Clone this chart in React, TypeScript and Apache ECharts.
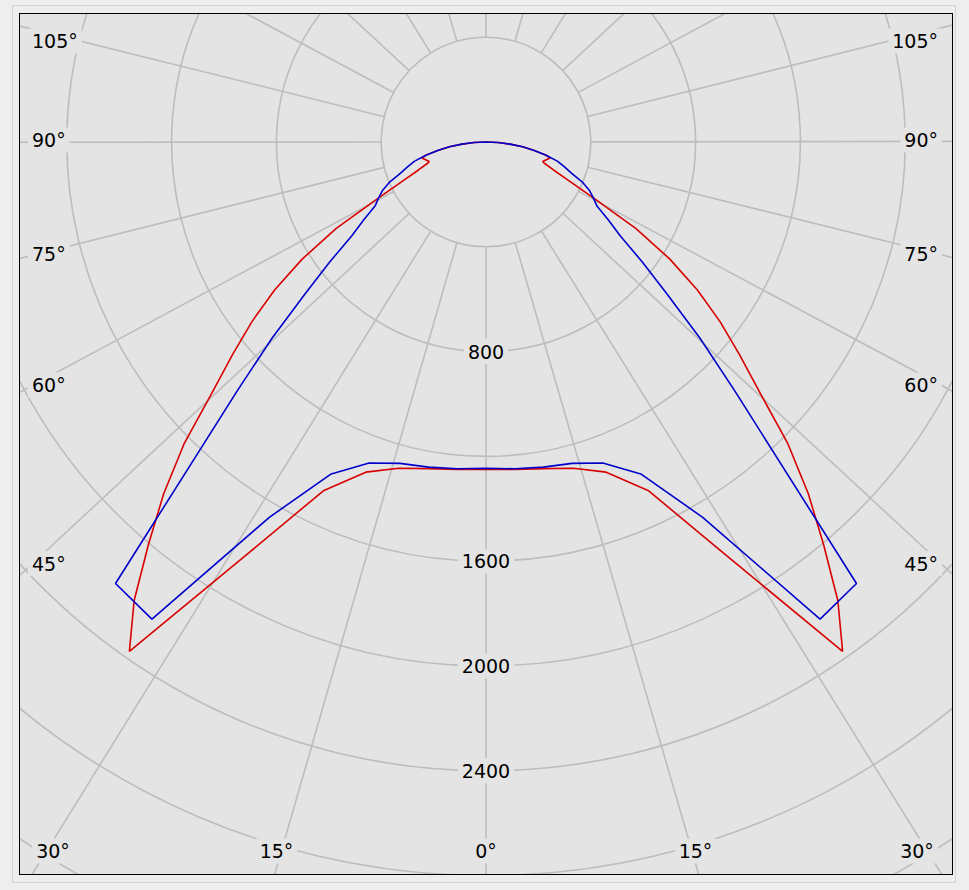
import React, { useEffect, useRef } from 'react';
import * as echarts from 'echarts';

// Luminous intensity (cd) versus gamma angle from nadir (deg); each curve is symmetric
const redAngles = [0, 5, 10, 15, 20, 25, 30, 35, 37.5, 40, 42.5, 45, 47.5, 50, 52.5, 55, 57.5, 60, 62.5, 65, 67.5, 70, 71, 76, 77.5, 80, 82.5, 85, 87.5, 90];
const redValues = [1250, 1255, 1266, 1289, 1341, 1469, 1811, 2373, 2206, 2004, 1821, 1630, 1420, 1263, 1126, 985, 832, 660, 462, 347, 279, 237, 229, 252, 235, 187, 141, 92, 46, 0];

const blueAngles = [0, 5, 10, 15, 20, 25, 30, 35, 40, 45, 47.5, 50, 52.5, 55, 57.5, 60, 62.5, 65, 67.5, 70, 72.5, 75, 77.5, 80, 82.5, 85, 87.5, 90];
const blueValues = [1245, 1252, 1260, 1270, 1304, 1398, 1654, 2223, 2200, 1342, 1107, 901, 752, 626, 553, 489, 462, 435, 397, 347, 313, 282, 235, 187, 141, 92, 46, 0];

// Radial scale (cd)
const radiusMin = 400;
const radiusMax = 3600;
const radiusStep = 400;
const radiusLabels = [800, 1600, 2000, 2400];

// Directions of the grid spokes as drawn in the picture (deg from nadir, one half-plane)
const spokeAngles = [0, 16.1, 31.8, 47.1, 61.8, 76, 90, 104, 118.2, 132.9, 148.2, 163.9, 180];

// Angle tick labels
const sideAngleLabels = ['105°', '90°', '75°', '60°', '45°'];
const bottomAngleLabels = ['30°', '15°', '0°', '15°', '30°'];

// ---- layout / style (not data) ----
const BG = '#e4e4e4';
const GRID = '#bdbdbd';
const RED = '#d80000';
const BLUE = '#0000cc';
const FONT_FAMILY = '"DejaVu Sans", Verdana, sans-serif';
const FONT_SIZE = 19;
const CHART_W = 932;
const CHART_H = 860;
const CENTER: [number, number] = [466, 128];
const PX_PER_CD = 104.8 / 400;
const sideLabelY = [27, 126, 239.5, 371, 549.5];
const bottomLabelX = [33, 256.5, 466, 675.5, 897];
const bottomLabelY = 837;
const ANGLE_STEPS_PER_DEG = 10;

function loop(angles: number[], values: number[]) {
  const left = angles.map((a, i) => [values[i], a]);
  const right = angles.map((a, i) => [values[i], 360 - a]).reverse();
  return [...left, ...right];
}

const hiddenAxisParts = {
  axisLine: { show: false },
  axisTick: { show: false },
  axisLabel: { show: false },
  splitLine: { show: false },
};

export default function App() {
  const ref = useRef<HTMLDivElement>(null);

  useEffect(() => {
    if (!ref.current) return;
    const chart = echarts.init(ref.current, undefined, { renderer: 'svg' });

    const labelStyle = {
      fill: '#000',
      font: `${FONT_SIZE}px ${FONT_FAMILY}`,
      backgroundColor: BG,
      padding: [3, 4],
    };

    const elements: any[] = [];
    sideAngleLabels.forEach((t, i) => {
      elements.push({
        type: 'text',
        x: 8,
        y: sideLabelY[i],
        z: 10,
        silent: true,
        style: { ...labelStyle, text: t, align: 'left', verticalAlign: 'middle' },
      });
      elements.push({
        type: 'text',
        x: 922,
        y: sideLabelY[i],
        z: 10,
        silent: true,
        style: { ...labelStyle, text: t, align: 'right', verticalAlign: 'middle' },
      });
    });
    bottomAngleLabels.forEach((t, i) => {
      elements.push({
        type: 'text',
        x: bottomLabelX[i],
        y: bottomLabelY,
        z: 10,
        silent: true,
        style: { ...labelStyle, text: t, align: 'center', verticalAlign: 'middle' },
      });
    });

    const r0 = radiusMin * PX_PER_CD;
    const r1 = radiusMax * PX_PER_CD;

    // fine category ring so that spokes can sit at the drawn directions
    const nSteps = 360 * ANGLE_STEPS_PER_DEG;
    const angleCategories = Array.from({ length: nSteps + 1 }, (_, i) => (i / ANGLE_STEPS_PER_DEG).toFixed(1));
    const spokeIdx = new Set<number>();
    spokeAngles.forEach((a) => {
      spokeIdx.add(Math.round(a * ANGLE_STEPS_PER_DEG));
      const mirrored = Math.round((360 - a) * ANGLE_STEPS_PER_DEG);
      if (mirrored < nSteps) spokeIdx.add(mirrored);
    });
    const isSpoke = (index: number) => spokeIdx.has(index);

    chart.setOption({
      animation: false,
      backgroundColor: 'transparent',
      polar: [
        { center: CENTER, radius: [r0, r1] },
        { center: CENTER, radius: [0, r1] },
      ],
      angleAxis: [
        {
          polarIndex: 0,
          type: 'category',
          data: angleCategories,
          boundaryGap: false,
          startAngle: -90,
          clockwise: true,
          axisLine: { show: false },
          axisTick: { show: false, interval: isSpoke },
          axisLabel: { show: false, interval: isSpoke },
          splitLine: { show: true, interval: isSpoke, lineStyle: { color: GRID, width: 1.6 } },
          z: 1,
        },
        {
          polarIndex: 1,
          type: 'value',
          min: 0,
          max: 360,
          interval: 15,
          startAngle: -90,
          clockwise: true,
          ...hiddenAxisParts,
        },
      ],
      radiusAxis: [
        {
          polarIndex: 0,
          type: 'value',
          min: radiusMin,
          max: radiusMax,
          interval: radiusStep,
          axisLine: { show: false },
          axisTick: { show: false },
          axisLabel: {
            show: true,
            margin: 0,
            align: 'center',
            verticalAlign: 'middle',
            formatter: (v: number) => (radiusLabels.includes(v) ? `{b|${v}}` : ''),
            rich: {
              b: {
                color: '#000',
                fontSize: FONT_SIZE,
                fontFamily: FONT_FAMILY,
                backgroundColor: BG,
                padding: [3, 4],
              },
            },
          },
          splitLine: { show: true, lineStyle: { color: GRID, width: 1.6 } },
          z: 2,
        },
        {
          polarIndex: 1,
          type: 'value',
          min: 0,
          max: radiusMax,
          interval: radiusStep,
          ...hiddenAxisParts,
        },
      ],
      series: [
        {
          type: 'line',
          coordinateSystem: 'polar',
          polarIndex: 1,
          data: loop(redAngles, redValues),
          symbol: 'none',
          showSymbol: false,
          clip: false,
          silent: true,
          lineStyle: { color: RED, width: 1.6 },
          z: 5,
        },
        {
          type: 'line',
          coordinateSystem: 'polar',
          polarIndex: 1,
          data: loop(blueAngles, blueValues),
          symbol: 'none',
          showSymbol: false,
          clip: false,
          silent: true,
          lineStyle: { color: BLUE, width: 1.6 },
          z: 6,
        },
      ],
      graphic: { elements },
    });

    return () => chart.dispose();
  }, []);

  return (
    <div style={{ position: 'absolute', left: 0, top: 0, width: 969, height: 890, background: '#eeeeee' }}>
      <div
        style={{
          position: 'absolute',
          left: 12,
          top: 5,
          width: 944,
          height: 878,
          border: '1px solid #d4d4d4',
          boxSizing: 'border-box',
        }}
      />
      <div
        style={{
          position: 'absolute',
          left: 19,
          top: 13,
          width: CHART_W,
          height: CHART_H,
          border: '1px solid #000',
          background: BG,
          overflow: 'hidden',
        }}
      >
        <div ref={ref} style={{ width: CHART_W, height: CHART_H }} />
      </div>
    </div>
  );
}
